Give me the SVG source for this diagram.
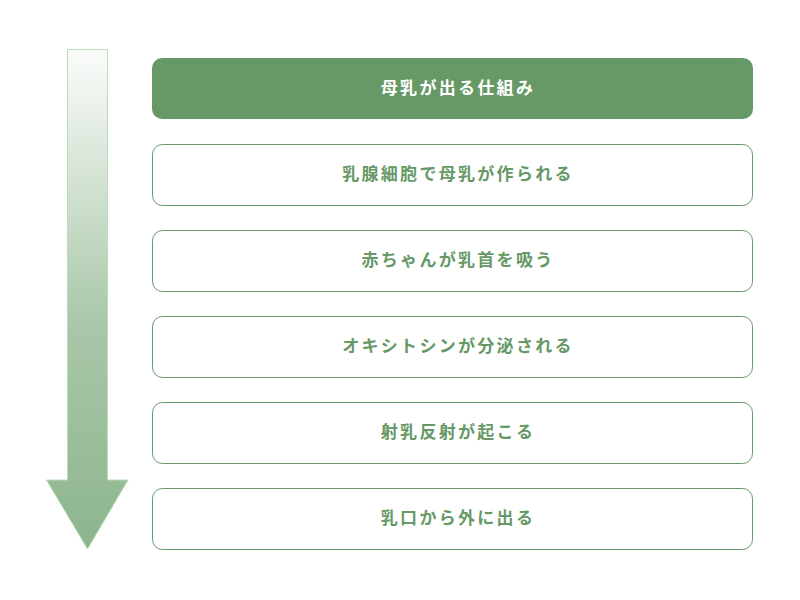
<svg xmlns="http://www.w3.org/2000/svg" width="800" height="600" viewBox="0 0 800 600">
<style>
.box{fill:#ffffff;stroke:#669966;stroke-width:1}
.head{fill:#669966}
.t{font-family:"Noto Sans CJK JP","Noto Sans CJK SC",sans-serif;font-size:17px;font-weight:bold;fill:#669966;text-anchor:middle;dominant-baseline:central;letter-spacing:2.3px}
.th{fill:#ffffff}
</style>
<defs>
<linearGradient id="g" x1="0" y1="49" x2="0" y2="549" gradientUnits="userSpaceOnUse">
<stop offset="0" stop-color="#fbfcfb"/>
<stop offset="0.55" stop-color="#a9c7a9"/>
<stop offset="1" stop-color="#8db58d"/>
</linearGradient>
</defs>
<rect width="800" height="600" fill="#ffffff"/>
<g id="arrow">
<path d="M67.5,49.5 H107.5 V480 H128 L87.5,549 L46.5,480 H67.5 Z" fill="url(#g)" stroke="#b9dcb9" stroke-width="1"/>
</g>
<g id="node0"><rect x="152" y="58" width="601" height="61" rx="10" class="head"/><text x="458" y="86" class="t th">母乳が出る仕組み</text></g>
<g id="node1"><rect x="152.5" y="144.5" width="600" height="61" rx="10" class="box"/><text x="458" y="172" class="t">乳腺細胞で母乳が作られる</text></g>
<g id="node2"><rect x="152.5" y="230.5" width="600" height="61" rx="10" class="box"/><text x="458" y="258" class="t">赤ちゃんが乳首を吸う</text></g>
<g id="node3"><rect x="152.5" y="316.5" width="600" height="61" rx="10" class="box"/><text x="458" y="344" class="t">オキシトシンが分泌される</text></g>
<g id="node4"><rect x="152.5" y="402.5" width="600" height="61" rx="10" class="box"/><text x="458" y="430" class="t">射乳反射が起こる</text></g>
<g id="node5"><rect x="152.5" y="488.5" width="600" height="61" rx="10" class="box"/><text x="458" y="516" class="t">乳口から外に出る</text></g>
<g id="connectors"></g>
</svg>
